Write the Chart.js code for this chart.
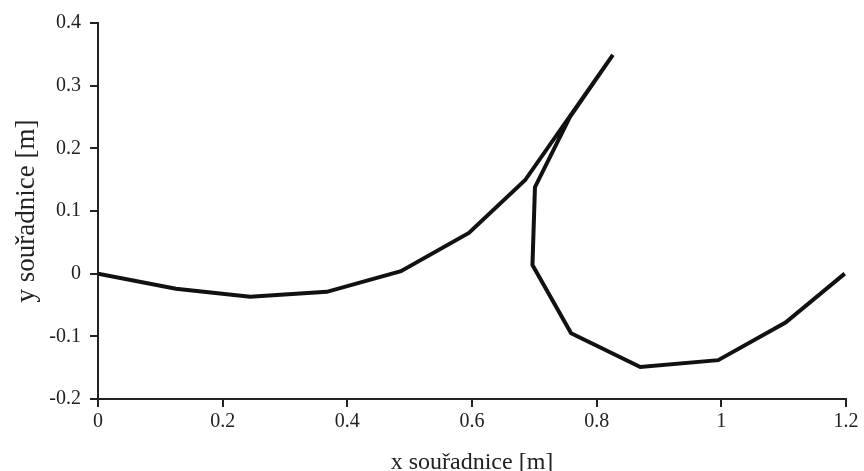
<!DOCTYPE html>
<html>
<head>
<meta charset="utf-8">
<script src="https://cdn.jsdelivr.net/npm/chart.js@4"></script>
<style>
  html, body { margin: 0; padding: 0; background: #fff; }
  #wrap { width: 864px; height: 471px; }
</style>
</head>
<body>
<div id="wrap"><canvas id="myChart"></canvas></div>
<script>
// body coordinates
const xCoords = [0, 0.125, 0.244, 0.367, 0.486, 0.595, 0.685, 0.826, 0.757, 0.701, 0.697, 0.759, 0.870, 0.995, 1.103, 1.198];
const yCoords = [0, -0.024, -0.037, -0.029, 0.004, 0.065, 0.149, 0.349, 0.25, 0.138, 0.014, -0.095, -0.149, -0.138, -0.078, 0];
const xTitle = "x souřadnice [m]";
const yTitle = "y souřadnice [m]";

const points = xCoords.map((x, i) => ({ x: x, y: yCoords[i] }));

const ctx = document.getElementById("myChart");
const serif = "'Liberation Serif', 'Times New Roman', serif";

new Chart(ctx, {
  type: "scatter",
  data: {
    datasets: [
      {
        data: points,
        showLine: true,
        borderColor: "#111",
        borderWidth: 4,
        pointRadius: 0,
        tension: 0,
      },
    ],
  },
  options: {
    responsive: true,
    maintainAspectRatio: false,
    animation: false,
    layout: { padding: { top: 23, right: 18, left: 0, bottom: 0 } },
    plugins: { legend: { display: false }, tooltip: { enabled: false } },
    scales: {
      x: {
        type: "linear",
        min: 0,
        max: 1.2,
        ticks: {
          stepSize: 0.2,
          color: "#222",
          font: { family: serif, size: 20 },
          padding: 3,
          maxRotation: 0,
          callback: (v) => Math.round(v * 10) / 10,
        },
        grid: { drawOnChartArea: false, drawTicks: true, tickLength: 8, color: "#222", lineWidth: 2 },
        border: { display: true, color: "#222", width: 2 },
        title: { display: true, text: xTitle, color: "#222", font: { family: serif, size: 24 }, padding: { top: 0, bottom: -6 } },
        afterFit: (scale) => { scale.height = 72; },
      },
      y: {
        type: "linear",
        min: -0.2,
        max: 0.4,
        ticks: {
          stepSize: 0.1,
          color: "#222",
          font: { family: serif, size: 20 },
          padding: 9,
          callback: (v) => Math.round(v * 10) / 10,
        },
        grid: { drawOnChartArea: false, drawTicks: true, tickLength: 8, color: "#222", lineWidth: 2 },
        border: { display: true, color: "#222", width: 2 },
        title: { display: true, text: yTitle, color: "#222", font: { family: serif, size: 27 }, padding: { top: 11, bottom: 0 } },
        afterFit: (scale) => { scale.width = 98; },
      },
    },
  },
});
</script>
</body>
</html>
